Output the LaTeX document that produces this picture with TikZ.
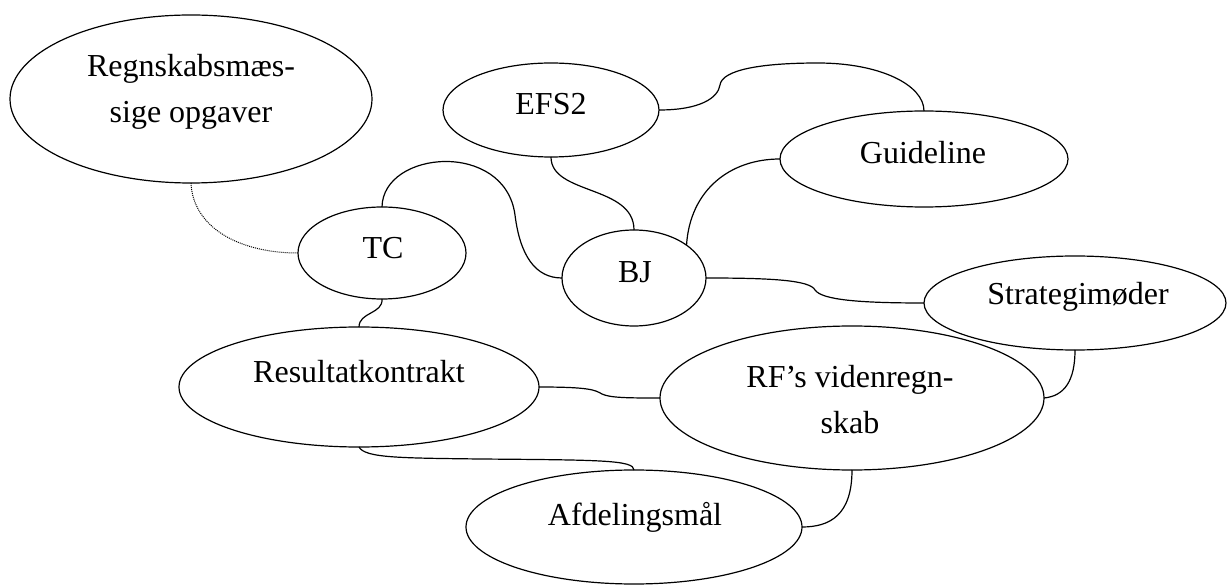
\documentclass[tikz,border=0pt]{standalone}
\usepackage{fontspec}
\setmainfont{Liberation Serif}
\usepackage{tikz}
\usetikzlibrary{shapes.geometric}
\tikzset{
	bub/.style={draw,ellipse,line width=1.2pt,inner sep=0pt,outer sep=0pt},
	txt/.style={align=center,font=\fontsize{32}{46}\selectfont},
	link/.style={line width=1.2pt},
	weak/.style={line width=1pt,densely dotted}
}
\newcommand{\bubble}[4]{\node[bub,minimum width=#3,minimum height=#4] (#1) at (#2) {};}
\newcommand{\bubtext}[3]{\node[txt] (#1-t) at (#2) {#3};}

\begin{document}
\begin{tikzpicture}[x=1pt,y=-1pt]
		\useasboundingbox (0,0) rectangle (1227,585);

	\bubble{regn}{191,99}{362pt}{168pt}
	\bubble{efs}{551,110}{216pt}{94pt}
	\bubble{tc}{382,253}{168pt}{92pt}
	\bubble{bj}{634,278}{144pt}{96pt}
	\bubble{guide}{924,159}{288pt}{96pt}
	\bubble{strat}{1075,303}{302pt}{94pt}
	\bubble{result}{359,387}{360pt}{120pt}
	\bubble{rf}{852,398}{384pt}{144pt}
	\bubble{afd}{634,527}{336pt}{114pt}

	\bubtext{regn}{191,92}{Regnskabsmæs-\\sige opgaver}
	\bubtext{efs}{551,104}{EFS2}
	\bubtext{tc}{383,248}{TC}
	\bubtext{bj}{635,272}{BJ}
	\bubtext{guide}{923,153}{Guideline}
	\bubtext{strat}{1078,297}{Strategimøder}
	\bubtext{result}{359,372}{Resultatkontrakt}
	\bubtext{rf}{850,400}{RF’s videnregn-\\skab}
	\bubtext{afd}{635,517}{Afdelingsmål}

	\draw[weak] (regn.south) .. controls (193,228) and (240,253) .. (tc.west);
	\draw[link] (tc.north) .. controls (383,150) and (505,140) .. (515,215) .. controls (520,255) and (535,278) .. (bj.west);
	\draw[link] (efs.south) .. controls (551,195) and (634,185) .. (bj.north);
	\draw[link] (bj.32) .. controls (690,190) and (730,159) .. (guide.west);
	\draw[link] (efs.east) .. controls (700,110) and (718,98) .. (720,85) .. controls (722,70) and (760,63) .. (818,63) .. controls (880,63) and (924,85) .. (guide.north);
	\draw[link] (bj.east) .. controls (770,278) and (810,280) .. (815,290) .. controls (822,300) and (860,303) .. (strat.west);
	\draw[link] (strat.south) .. controls (1075,380) and (1065,396) .. (rf.east);
	\draw[link] (tc.south) .. controls (383,314) and (359,312) .. (result.north);
	\draw[link] (result.east) .. controls (590,387) and (595,390) .. (602,394) .. controls (610,398) and (630,398) .. (rf.west);
	\draw[link] (result.south) .. controls (365,458) and (400,458) .. (480,459) .. controls (600,460) and (634,460) .. (afd.north);
	\draw[link] (rf.south) .. controls (852,515) and (830,527) .. (afd.east);
\end{tikzpicture}
\end{document}
